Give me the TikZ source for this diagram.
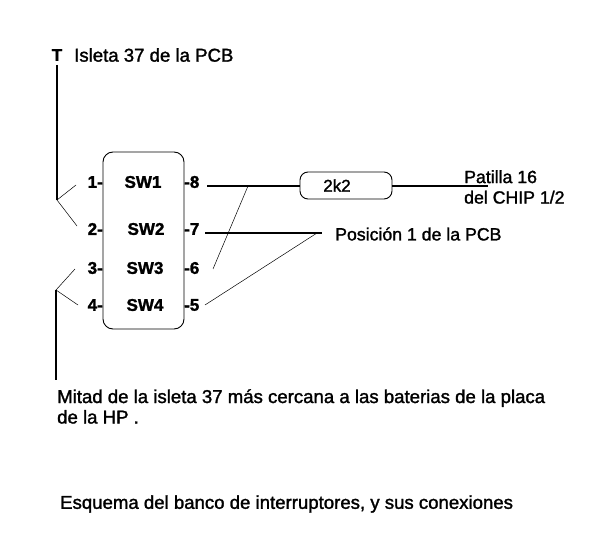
\documentclass[tikz,border=0pt]{standalone}
\usepackage{fontspec}
\setmainfont{Liberation Sans}
\newfontfamily\heavy{Liberation Sans}[RawFeature={embolden=1.5}]
\newfontfamily\heavybold{Liberation Sans Bold}[RawFeature={embolden=1.5}]
\begin{document}
\begin{tikzpicture}[x=1pt,y=-1pt,
  lbl/.style={inner sep=0pt,anchor=west,font=\heavy\fontsize{18.6}{20.5}\selectfont,align=left},
  lblsmall/.style={inner sep=0pt,anchor=west,font=\heavy\fontsize{17.7}{20.5}\selectfont,align=left},
  pin/.style={inner sep=0pt,anchor=center,font=\heavybold\fontsize{17}{19}\selectfont},
  thick line/.style={line width=1.4pt},
  thin line/.style={line width=0.5pt}]
\useasboundingbox[fill=white] (0,0) rectangle (601,553);
% bodies
\node[draw,line width=0.9pt,rounded corners=10pt,minimum width=81pt,minimum height=177pt,inner sep=0pt] (bank) at (143.5,240.5) {};
\node[draw,line width=0.9pt,rounded corners=8pt,minimum width=92pt,minimum height=27pt,inner sep=0pt] (res) at (346,185.5) {\hspace*{-18pt}\heavy\fontsize{17}{19}\selectfont 2k2};
% switch names
\node[pin] (sw1) at (143,182) {SW1};
\node[pin] (sw2) at (146,229) {SW2};
\node[pin] (sw3) at (145,268) {SW3};
\node[pin] (sw4) at (145,305) {SW4};
% pins
\node[pin,anchor=east] (p1) at (103,182) {1-};
\node[pin,anchor=east] (p2) at (103,229) {2-};
\node[pin,anchor=east] (p3) at (103,268) {3-};
\node[pin,anchor=east] (p4) at (103,305) {4-};
\node[pin,anchor=west] (p8) at (184,182) {-8};
\node[pin,anchor=west] (p7) at (184,229) {-7};
\node[pin,anchor=west] (p6) at (184,268) {-6};
\node[pin,anchor=west] (p5) at (184,305) {-5};
% labels
\node[pin] (t) at (57,55) {T};
\node[lbl] (isleta) at (74,55) {Isleta 37 de la PCB};
\node[lblsmall] (patilla) at (464,187) {Patilla 16\\del CHIP 1/2};
\node[lblsmall] (pos) at (335,234) {Posición 1 de la PCB};
\node[lbl] (mitad) at (57,406.5) {Mitad de la isleta 37 más cercana a las baterias de la placa\\de la HP .};
\node[lbl] (esq) at (60,504) {Esquema del banco de interruptores, y sus conexiones};
% junctions
\coordinate (jtop) at (57,200);
\coordinate (jbot) at (56,290);
\coordinate (a1) at (76,185);
\coordinate (a2) at (77,226);
\coordinate (a3) at (75,269);
\coordinate (a4) at (78,305);
\coordinate (ttop) at (57,65);
\coordinate (bend) at (56,380);
\coordinate (s8) at (207,186);
\coordinate (j8) at (248,186);
\coordinate (e6) at (213,269);
\coordinate (s7) at (205,233);
\coordinate (e7) at (322,233);
\coordinate (j7) at (317,233);
\coordinate (e5) at (205,305);
\coordinate (e16) at (488,186);
% connectors
\draw[thick line] (ttop) -- (jtop);
\draw[thick line] (jbot) -- (bend);
\draw[thin line] (a1) -- (jtop) -- (a2);
\draw[thin line] (a3) -- (jbot) -- (a4);
\draw[thick line] (s8) -- (res.west |- s8);
\draw[thick line] (res.east |- s8) -- (e16);
\draw[thick line] (s7) -- (e7);
\draw[thin line] (j8) -- (e6);
\draw[thin line] (j7) -- (e5);
\end{tikzpicture}
\end{document}
